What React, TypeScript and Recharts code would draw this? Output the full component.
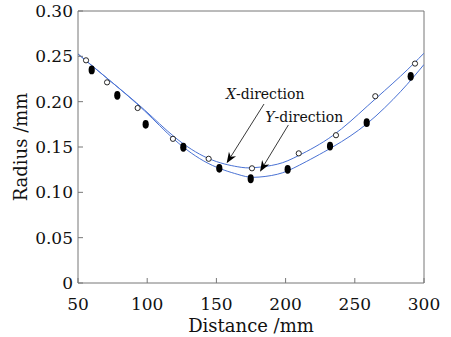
import React from 'react';
import { ComposedChart, Line, Scatter, XAxis, YAxis, ReferenceLine } from 'recharts';

// Axis ticks
const xTicks = [50, 100, 150, 200, 250, 300];
const yTicks = [0, 0.05, 0.1, 0.15, 0.2, 0.25, 0.3];

// Measured points: X-direction (open circles)
const xDirDist = [55.8, 71, 93.1, 118.6, 144.4, 175.7, 209.5, 236.4, 264.8, 293.5];
const xDirRadius = [0.2456, 0.2213, 0.193, 0.159, 0.137, 0.1265, 0.143, 0.163, 0.206, 0.242];

// Measured points: Y-direction (filled)
const yDirDist = [59.9, 78.4, 98.9, 126.1, 152.1, 174.8, 201.5, 232.1, 258.6, 290.4];
const yDirRadius = [0.235, 0.207, 0.175, 0.1497, 0.1265, 0.115, 0.1254, 0.151, 0.1768, 0.228];

// Fitted curves
const fitDist = [50, 74, 98, 120, 144, 165, 177, 194, 210, 234, 259, 283, 300];
const fitXRadius = [0.2526, 0.222, 0.191, 0.1607, 0.1375, 0.1283, 0.1272, 0.131, 0.141, 0.1625, 0.195, 0.228, 0.2535];
const fitYRadius = [0.2526, 0.222, 0.19, 0.1577, 0.132, 0.12, 0.1166, 0.1199, 0.13, 0.15, 0.176, 0.211, 0.241];

// Annotations (label, tail point, tip point in data units)
const annLabels = ['X-direction', 'Y-direction'];
const annTail = [
  { x: 184.4, y: 0.1974 },
  { x: 202, y: 0.1743 },
];
const annTip = [
  { x: 157.4, y: 0.132 },
  { x: 181.5, y: 0.1228 },
];
const annTextOffset = [
  { dx: -38, dy: -5 },
  { dx: -23, dy: -3 },
];

const openData = xDirDist.map((x, i) => ({ x, y: xDirRadius[i] }));
const filledData = yDirDist.map((x, i) => ({ x, y: yDirRadius[i] }));
const fitXData = fitDist.map((x, i) => ({ x, y: fitXRadius[i] }));
const fitYData = fitDist.map((x, i) => ({ x, y: fitYRadius[i] }));

const FONT = '"DejaVu Serif", serif';
const AXIS = '#777';
const BLUE = '#4a72d4';

const OpenDot = (p: any) => (
  <circle cx={p.cx} cy={p.cy} r={2.6} fill="#fff" stroke="#111" strokeWidth={0.9} />
);
const FilledDot = (p: any) => (
  <ellipse cx={p.cx} cy={p.cy} rx={3.1} ry={4.4} fill="#000" />
);

const makeArrow = (label: string, dx: number, dy: number) => (props: any) => {
  const { x1, y1, x2, y2 } = props;
  const ang = Math.atan2(y2 - y1, x2 - x1);
  const c = Math.cos(ang);
  const s = Math.sin(ang);
  const L = 11;
  const W = 4.2;
  const bx = x2 - L * c;
  const by = y2 - L * s;
  const nx = x2 - 0.7 * L * c;
  const ny = y2 - 0.7 * L * s;
  const pts = [
    [x2, y2],
    [bx - W * s, by + W * c],
    [nx, ny],
    [bx + W * s, by - W * c],
  ]
    .map((q) => q.join(','))
    .join(' ');
  return (
    <g>
      <line x1={x1} y1={y1} x2={nx} y2={ny} stroke="#222" strokeWidth={0.9} />
      <polygon points={pts} fill="#000" />
      <text x={x1 + dx} y={y1 + dy} fontFamily={FONT} fontSize={14} fill="#111">
        <tspan fontStyle="italic">{label[0]}</tspan>
        {label.slice(1)}
      </text>
    </g>
  );
};

const fmtY = (v: number) => (v === 0 ? '0' : v.toFixed(2));

export default function App() {
  return (
    <div style={{ width: 451, height: 337, background: '#fff' }}>
      <style>{'body{margin:0}'}</style>
      <ComposedChart
        width={451}
        height={337}
        margin={{ top: 11, right: 27, bottom: 0, left: 0 }}
      >
        <XAxis
          type="number"
          dataKey="x"
          domain={[50, 300]}
          ticks={xTicks}
          allowDataOverflow
          height={54}
          tickSize={-5}
          tickMargin={20}
          axisLine={{ stroke: AXIS }}
          tickLine={{ stroke: AXIS }}
          tick={{ fill: '#111', fontFamily: FONT, fontSize: 17 }}
          label={{
            value: 'Distance /mm',
            position: 'insideBottom',
            offset: 5,
            style: { fill: '#111', fontFamily: FONT, fontSize: 18 },
          }}
        />
        <YAxis
          type="number"
          dataKey="y"
          domain={[0, 0.3]}
          ticks={yTicks}
          allowDataOverflow
          width={78}
          tickSize={-5}
          tickMargin={10}
          tickFormatter={fmtY}
          axisLine={{ stroke: AXIS }}
          tickLine={{ stroke: AXIS }}
          tick={{ fill: '#111', fontFamily: FONT, fontSize: 17 }}
          label={{
            value: 'Radius /mm',
            angle: -90,
            position: 'insideLeft',
            offset: 21,
            style: { fill: '#111', fontFamily: FONT, fontSize: 18, textAnchor: 'middle' },
          }}
        />
        <ReferenceLine y={0.3} stroke={AXIS} />
        <ReferenceLine x={300} stroke={AXIS} />
        <Line
          data={fitXData}
          dataKey="y"
          type="natural"
          stroke={BLUE}
          strokeWidth={1}
          dot={false}
          activeDot={false}
          isAnimationActive={false}
        />
        <Line
          data={fitYData}
          dataKey="y"
          type="natural"
          stroke={BLUE}
          strokeWidth={1}
          dot={false}
          activeDot={false}
          isAnimationActive={false}
        />
        <Scatter data={openData} dataKey="y" shape={OpenDot} isAnimationActive={false} />
        <Scatter data={filledData} dataKey="y" shape={FilledDot} isAnimationActive={false} />
        {annLabels.map((lab, i) => (
          <ReferenceLine
            key={lab}
            segment={[annTail[i], annTip[i]]}
            shape={makeArrow(lab, annTextOffset[i].dx, annTextOffset[i].dy)}
          />
        ))}
      </ComposedChart>
    </div>
  );
}
